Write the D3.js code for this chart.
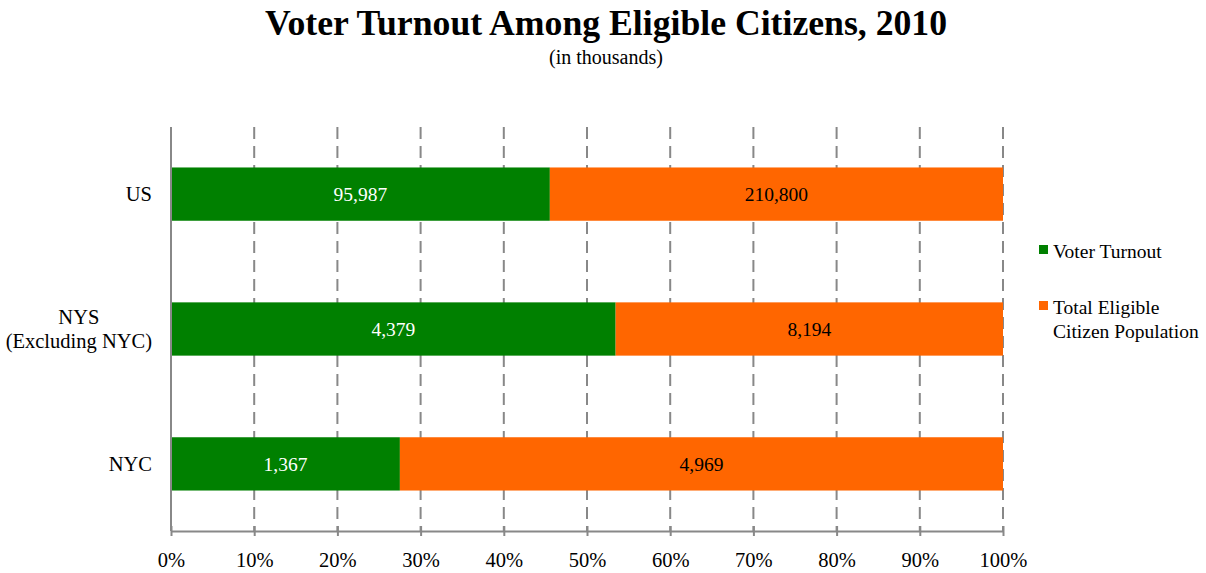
<!DOCTYPE html>
<html>
<head>
<meta charset="utf-8">
<script src="https://cdn.jsdelivr.net/npm/d3@7"></script>
<style>
  body { margin: 0; background: #fff; }
  text { font-family: "Liberation Serif", "Times New Roman", serif; }
</style>
</head>
<body>
<svg id="chart" width="1206" height="573"></svg>
<script>
// Data
const categories = ["US", "NYS\n(Excluding NYC)", "NYC"];
const turnout = [95987, 4379, 1367];
const eligible = [210800, 8194, 4969];
const seriesNames = ["Voter Turnout", "Total Eligible\nCitizen Population"];
const colors = ["#008000", "#FF6600"];
const tickValues = [0, 0.1, 0.2, 0.3, 0.4, 0.5, 0.6, 0.7, 0.8, 0.9, 1];

const svg = d3.select("#chart");
const margin = {left: 171, right: 203, top: 127, bottom: 42};
const W = 1206, H = 573;

const x = d3.scaleLinear().domain([0, 1]).range([margin.left, W - margin.right]);
const y = d3.scaleBand().domain(categories).range([margin.top, H - margin.bottom]).paddingInner(0.605).paddingOuter(0.3);

// title
svg.append("text").attr("x", 606).attr("y", 35).attr("text-anchor", "middle")
    .attr("font-size", 35.7).attr("font-weight", "bold").text("Voter Turnout Among Eligible Citizens, 2010");
svg.append("text").attr("x", 606).attr("y", 64).attr("text-anchor", "middle")
    .attr("font-size", 20).text("(in thousands)");

// grid lines (dashed)
svg.append("g").selectAll("line").data(tickValues.slice(1)).enter().append("line")
    .attr("x1", d => x(d)).attr("x2", d => x(d))
    .attr("y1", margin.top).attr("y2", H - margin.bottom)
    .attr("stroke", "#888").attr("stroke-width", 2).attr("stroke-dasharray", "12,7");

// bars
const rows = categories.map((c, i) => ({cat: c, t: turnout[i], e: eligible[i], share: turnout[i] / eligible[i]}));
const barG = svg.append("g");
barG.selectAll("rect.t").data(rows).enter().append("rect")
    .attr("x", x(0)).attr("y", d => y(d.cat))
    .attr("width", d => x(d.share) - x(0)).attr("height", y.bandwidth())
    .attr("fill", colors[0]);
barG.selectAll("rect.e").data(rows).enter().append("rect")
    .attr("x", d => x(d.share)).attr("y", d => y(d.cat))
    .attr("width", d => x(1) - x(d.share)).attr("height", y.bandwidth())
    .attr("fill", colors[1]);

const fmt = d3.format(",");
barG.selectAll("text.t").data(rows).enter().append("text")
    .attr("x", d => (x(0) + x(d.share)) / 2).attr("y", d => y(d.cat) + y.bandwidth() / 2 + 7)
    .attr("text-anchor", "middle").attr("font-size", 19.5).attr("fill", "#fff")
    .text(d => fmt(d.t));
barG.selectAll("text.e").data(rows).enter().append("text")
    .attr("x", d => (x(d.share) + x(1)) / 2).attr("y", d => y(d.cat) + y.bandwidth() / 2 + 7)
    .attr("text-anchor", "middle").attr("font-size", 19.5).attr("fill", "#000")
    .text(d => fmt(d.e));

// axes
const xAxis = svg.append("g").attr("transform", `translate(0,${H - margin.bottom})`)
    .call(d3.axisBottom(x).tickValues(tickValues).tickFormat(d3.format(".0%")).tickSizeInner(6).tickSizeOuter(0));
xAxis.select(".domain").attr("stroke", "#888").attr("stroke-width", 2);
xAxis.selectAll(".tick line").attr("stroke", "#888").attr("stroke-width", 2).attr("y1", -5).attr("y2", 5);
xAxis.selectAll(".tick text").attr("font-family", "Liberation Serif").attr("font-size", 20.5).attr("fill", "#000").attr("dy", 0).attr("y", 36);

svg.append("line").attr("x1", x(0)).attr("x2", x(0)).attr("y1", margin.top).attr("y2", H - margin.bottom)
    .attr("stroke", "#888").attr("stroke-width", 2);

// category labels
const catG = svg.append("g");
categories.forEach(c => {
    const lines = c.split("\n");
    const t = catG.append("text").attr("font-size", 20.5).attr("text-anchor", "middle");
    lines.forEach((l, i) => t.append("tspan").text(l));
    const widths = [];
    t.selectAll("tspan").each(function() { widths.push(this.getComputedTextLength()); });
    const maxW = d3.max(widths);
    const cx = 152 - maxW / 2;
    const cy = y(c) + y.bandwidth() / 2 + 7 - (lines.length - 1) * 12;
    t.selectAll("tspan").attr("x", cx).attr("y", (d, i) => cy + i * 24);
});

// legend
const legend = svg.append("g");
const legY = [249, 305];
seriesNames.forEach((s, i) => {
    legend.append("rect").attr("x", 1039).attr("y", legY[i] - 4).attr("width", 9).attr("height", 9).attr("fill", colors[i]);
    const t = legend.append("text").attr("font-size", 19.5);
    s.split("\n").forEach((l, j) => {
        t.append("tspan").attr("x", 1053).attr("y", legY[i] + 9 + j * 24).text(l);
    });
});
</script>
</body>
</html>
